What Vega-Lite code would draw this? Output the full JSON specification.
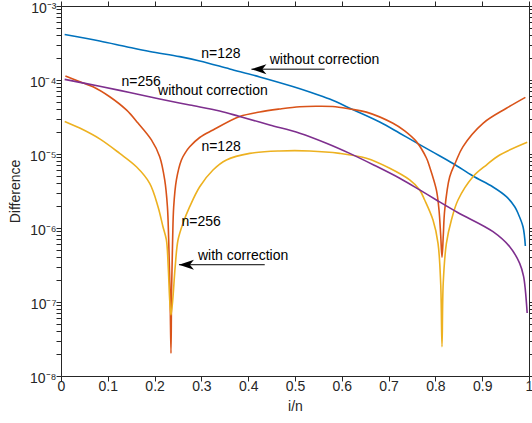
{
  "$schema": "https://vega.github.io/schema/vega-lite/v6.json",
  "width": 468,
  "height": 370,
  "autosize": {"type": "none"},
  "padding": {"left": 61, "top": 6, "right": 3, "bottom": 47},
  "config": {
    "view": {"stroke": null},
    "font": "Liberation Sans",
    "axis": {
      "grid": false,
      "labelFont": "Liberation Sans",
      "titleFont": "Liberation Sans",
      "labelFontSize": 14,
      "titleFontSize": 14,
      "titleFontWeight": "normal",
      "labelColor": "#262626",
      "titleColor": "#262626",
      "domainColor": "#262626",
      "domainWidth": 1,
      "tickColor": "#262626",
      "tickWidth": 1,
      "tickSize": 5,
      "ticks": true,
      "labelOverlap": false,
      "labelFlush": false,
      "labelBound": false
    }
  },
  "datasets": {
    "curves": [
      {"series": "n128 without", "x": 0.0078, "y": 4.12e-4},
      {"series": "n128 without", "x": 0.0827, "y": 3.37e-4},
      {"series": "n128 without", "x": 0.1397, "y": 2.82e-4},
      {"series": "n128 without", "x": 0.1895, "y": 2.43e-4},
      {"series": "n128 without", "x": 0.2536, "y": 2.07e-4},
      {"series": "n128 without", "x": 0.2964, "y": 1.81e-4},
      {"series": "n128 without", "x": 0.3605, "y": 1.41e-4},
      {"series": "n128 without", "x": 0.4246, "y": 1.10e-4},
      {"series": "n128 without", "x": 0.4951, "y": 8.17e-5},
      {"series": "n128 without", "x": 0.5314, "y": 6.89e-5},
      {"series": "n128 without", "x": 0.5741, "y": 5.53e-5},
      {"series": "n128 without", "x": 0.6233, "y": 3.99e-5},
      {"series": "n128 without", "x": 0.681, "y": 2.70e-5},
      {"series": "n128 without", "x": 0.7237, "y": 1.91e-5},
      {"series": "n128 without", "x": 0.7664, "y": 1.34e-5},
      {"series": "n128 without", "x": 0.7949, "y": 1.06e-5},
      {"series": "n128 without", "x": 0.8376, "y": 7.44e-6},
      {"series": "n128 without", "x": 0.8803, "y": 5.04e-6},
      {"series": "n128 without", "x": 0.9231, "y": 3.58e-6},
      {"series": "n128 without", "x": 0.9517, "y": 2.65e-6},
      {"series": "n128 without", "x": 0.9695, "y": 1.94e-6},
      {"series": "n128 without", "x": 0.9765, "y": 1.58e-6},
      {"series": "n128 without", "x": 0.9872, "y": 1.04e-6},
      {"series": "n128 without", "x": 0.9922, "y": 5.71e-7},

      {"series": "n128 with", "x": 0.0094, "y": 1.13e-4},
      {"series": "n128 with", "x": 0.047, "y": 9.10e-5},
      {"series": "n128 with", "x": 0.0684, "y": 8.11e-5},
      {"series": "n128 with", "x": 0.1041, "y": 5.94e-5},
      {"series": "n128 with", "x": 0.1397, "y": 3.94e-5},
      {"series": "n128 with", "x": 0.1645, "y": 2.62e-5},
      {"series": "n128 with", "x": 0.1932, "y": 1.55e-5},
      {"series": "n128 with", "x": 0.2109, "y": 9.20e-6},
      {"series": "n128 with", "x": 0.2216, "y": 4.46e-6},
      {"series": "n128 with", "x": 0.2274, "y": 1.94e-6},
      {"series": "n128 with", "x": 0.2301, "y": 6.89e-7},
      {"series": "n128 with", "x": 0.2329, "y": 1.45e-7},
      {"series": "n128 with", "x": 0.2350, "y": 2.03e-8},
      {"series": "n128 with", "x": 0.2363, "y": 1.45e-7},
      {"series": "n128 with", "x": 0.2385, "y": 6.89e-7},
      {"series": "n128 with", "x": 0.2408, "y": 1.94e-6},
      {"series": "n128 with", "x": 0.2466, "y": 4.46e-6},
      {"series": "n128 with", "x": 0.2573, "y": 8.30e-6},
      {"series": "n128 with", "x": 0.2665, "y": 1.06e-5},
      {"series": "n128 with", "x": 0.275, "y": 1.25e-5},
      {"series": "n128 with", "x": 0.2964, "y": 1.67e-5},
      {"series": "n128 with", "x": 0.3248, "y": 2.11e-5},
      {"series": "n128 with", "x": 0.3818, "y": 3.21e-5},
      {"series": "n128 with", "x": 0.4246, "y": 3.70e-5},
      {"series": "n128 with", "x": 0.4673, "y": 4.06e-5},
      {"series": "n128 with", "x": 0.5101, "y": 4.36e-5},
      {"series": "n128 with", "x": 0.5457, "y": 4.42e-5},
      {"series": "n128 with", "x": 0.5806, "y": 4.38e-5},
      {"series": "n128 with", "x": 0.6169, "y": 4.06e-5},
      {"series": "n128 with", "x": 0.6526, "y": 3.68e-5},
      {"series": "n128 with", "x": 0.7094, "y": 2.60e-5},
      {"series": "n128 with", "x": 0.7344, "y": 2.05e-5},
      {"series": "n128 with", "x": 0.7594, "y": 1.47e-5},
      {"series": "n128 with", "x": 0.7808, "y": 8.83e-6},
      {"series": "n128 with", "x": 0.7878, "y": 6.67e-6},
      {"series": "n128 with", "x": 0.8021, "y": 3.27e-6},
      {"series": "n128 with", "x": 0.8077, "y": 1.75e-6},
      {"series": "n128 with", "x": 0.8113, "y": 8.04e-7},
      {"series": "n128 with", "x": 0.8141, "y": 4.02e-7},
      {"series": "n128 with", "x": 0.8169, "y": 8.04e-7},
      {"series": "n128 with", "x": 0.8199, "y": 1.75e-6},
      {"series": "n128 with", "x": 0.8306, "y": 4.93e-6},
      {"series": "n128 with", "x": 0.8434, "y": 7.80e-6},
      {"series": "n128 with", "x": 0.859, "y": 1.26e-5},
      {"series": "n128 with", "x": 0.9017, "y": 2.60e-5},
      {"series": "n128 with", "x": 0.9517, "y": 4.15e-5},
      {"series": "n128 with", "x": 0.9923, "y": 5.83e-5},

      {"series": "n256 with", "x": 0.0079, "y": 2.75e-5},
      {"series": "n256 with", "x": 0.04, "y": 2.24e-5},
      {"series": "n256 with", "x": 0.0827, "y": 1.60e-5},
      {"series": "n256 with", "x": 0.1254, "y": 1.02e-5},
      {"series": "n256 with", "x": 0.1611, "y": 6.73e-6},
      {"series": "n256 with", "x": 0.1895, "y": 4.02e-6},
      {"series": "n256 with", "x": 0.2073, "y": 1.94e-6},
      {"series": "n256 with", "x": 0.2179, "y": 1.04e-6},
      {"series": "n256 with", "x": 0.2252, "y": 6.89e-7},
      {"series": "n256 with", "x": 0.2291, "y": 3.00e-7},
      {"series": "n256 with", "x": 0.2323, "y": 1.06e-7},
      {"series": "n256 with", "x": 0.2350, "y": 6.67e-8},
      {"series": "n256 with", "x": 0.2387, "y": 1.06e-7},
      {"series": "n256 with", "x": 0.244, "y": 3.00e-7},
      {"series": "n256 with", "x": 0.25, "y": 6.89e-7},
      {"series": "n256 with", "x": 0.2607, "y": 1.16e-6},
      {"series": "n256 with", "x": 0.275, "y": 1.94e-6},
      {"series": "n256 with", "x": 0.2964, "y": 3.61e-6},
      {"series": "n256 with", "x": 0.3248, "y": 6.08e-6},
      {"series": "n256 with", "x": 0.3534, "y": 8.30e-6},
      {"series": "n256 with", "x": 0.4032, "y": 1.02e-5},
      {"series": "n256 with", "x": 0.4673, "y": 1.10e-5},
      {"series": "n256 with", "x": 0.5314, "y": 1.10e-5},
      {"series": "n256 with", "x": 0.5955, "y": 1.02e-5},
      {"series": "n256 with", "x": 0.6526, "y": 8.75e-6},
      {"series": "n256 with", "x": 0.7024, "y": 6.41e-6},
      {"series": "n256 with", "x": 0.7451, "y": 4.46e-6},
      {"series": "n256 with", "x": 0.7664, "y": 3.27e-6},
      {"series": "n256 with", "x": 0.7771, "y": 2.39e-6},
      {"series": "n256 with", "x": 0.7949, "y": 1.28e-6},
      {"series": "n256 with", "x": 0.8056, "y": 6.21e-7},
      {"series": "n256 with", "x": 0.8113, "y": 1.79e-7},
      {"series": "n256 with", "x": 0.8141, "y": 2.49e-8},
      {"series": "n256 with", "x": 0.8167, "y": 1.79e-7},
      {"series": "n256 with", "x": 0.8235, "y": 6.21e-7},
      {"series": "n256 with", "x": 0.8342, "y": 1.28e-6},
      {"series": "n256 with", "x": 0.8483, "y": 2.39e-6},
      {"series": "n256 with", "x": 0.8803, "y": 4.93e-6},
      {"series": "n256 with", "x": 0.909, "y": 7.10e-6},
      {"series": "n256 with", "x": 0.9374, "y": 9.68e-6},
      {"series": "n256 with", "x": 0.9962, "y": 1.44e-5},

      {"series": "n256 without", "x": 0.0078, "y": 1.02e-4},
      {"series": "n256 without", "x": 0.0827, "y": 8.22e-5},
      {"series": "n256 without", "x": 0.1468, "y": 6.78e-5},
      {"series": "n256 without", "x": 0.2109, "y": 5.53e-5},
      {"series": "n256 without", "x": 0.275, "y": 4.59e-5},
      {"series": "n256 without", "x": 0.3391, "y": 3.81e-5},
      {"series": "n256 without", "x": 0.3818, "y": 3.21e-5},
      {"series": "n256 without", "x": 0.4459, "y": 2.47e-5},
      {"series": "n256 without", "x": 0.5101, "y": 1.91e-5},
      {"series": "n256 without", "x": 0.5671, "y": 1.40e-5},
      {"series": "n256 without", "x": 0.6169, "y": 1.02e-5},
      {"series": "n256 without", "x": 0.6703, "y": 7.00e-6},
      {"series": "n256 without", "x": 0.7237, "y": 4.70e-6},
      {"series": "n256 without", "x": 0.7664, "y": 3.27e-6},
      {"series": "n256 without", "x": 0.8021, "y": 2.39e-6},
      {"series": "n256 without", "x": 0.8476, "y": 1.62e-6},
      {"series": "n256 without", "x": 0.9231, "y": 8.91e-7},
      {"series": "n256 without", "x": 0.9588, "y": 5.58e-7},
      {"series": "n256 without", "x": 0.9801, "y": 3.33e-7},
      {"series": "n256 without", "x": 0.9883, "y": 2.24e-7},
      {"series": "n256 without", "x": 0.9922, "y": 1.45e-7},
      {"series": "n256 without", "x": 0.9961, "y": 7.10e-8}
    ],
    "arrows": [
      {"x": 0.4069, "x2": 0.5634, "y": 1.40e-4},
      {"x": 0.2521, "x2": 0.4353, "y": 3.19e-7}
    ],
    "labels": [
      {"t": "n=128", "x": 0.2996, "y": 2.24e-4},
      {"t": "without correction", "x": 0.4459, "y": 1.86e-4},
      {"t": "n=256", "x": 0.1291, "y": 9.48e-5},
      {"t": "without correction", "x": 0.2073, "y": 7.16e-5},
      {"t": "n=128", "x": 0.3, "y": 1.26e-5},
      {"t": "n=256", "x": 0.2573, "y": 1.20e-6},
      {"t": "with correction", "x": 0.2927, "y": 4.19e-7}
    ]
  },
  "layer": [
    {
      "encoding": {
        "x": {
          "field": "x", "type": "quantitative",
          "scale": {"domain": [0, 1], "nice": false, "zero": false},
          "axis": {
            "orient": "bottom",
            "values": [0, 0.1, 0.2, 0.3, 0.4, 0.5, 0.6, 0.7, 0.8, 0.9, 1],
            "format": "~g",
            "title": "i/n",
            "labelPadding": -2,
            "titlePadding": 6,
            "encode": {"ticks": {"update": {"y2": {"value": -5}}}}
          }
        },
        "y": {
          "field": "y", "type": "quantitative",
          "scale": {"type": "log", "domain": [1e-8, 1e-3], "nice": false},
          "axis": {
            "orient": "left",
            "values": [1e-8, 2e-8, 3e-8, 4e-8, 5e-8, 6e-8, 7e-8, 8e-8, 9e-8,
                       1e-7, 2e-7, 3e-7, 4e-7, 5e-7, 6e-7, 7e-7, 8e-7, 9e-7,
                       1e-6, 2e-6, 3e-6, 4e-6, 5e-6, 6e-6, 7e-6, 8e-6, 9e-6,
                       1e-5, 2e-5, 3e-5, 4e-5, 5e-5, 6e-5, 7e-5, 8e-5, 9e-5,
                       1e-4, 2e-4, 3e-4, 4e-4, 5e-4, 6e-4, 7e-4, 8e-4, 9e-4, 1e-3],
            "labelExpr": "datum.value == 0.001 ? '10⁻³' : datum.value == 0.0001 ? '10⁻⁴' : datum.value == 0.00001 ? '10⁻⁵' : datum.value == 0.000001 ? '10⁻⁶' : datum.value == 1e-7 ? '10⁻⁷' : datum.value == 1e-8 ? '10⁻⁸' : ''",
            "title": "Difference",
            "labelPadding": 0,
            "labelOffset": 2,
            "titlePadding": 7,
            "encode": {"ticks": {"update": {"x2": [{"test": "indexof([0.001, 0.0001, 0.00001, 0.000001, 1e-7, 1e-8], datum.value) >= 0", "value": 5}, {"value": 3}]}}}
          }
        }
      },
      "layer": [
        {
          "data": {"name": "curves"},
          "transform": [{"filter": "datum.series == 'n128 without'"}],
          "mark": {"type": "line", "color": "#0072BD", "strokeWidth": 1.6, "interpolate": "catmull-rom", "clip": true}
        },
        {
          "data": {"name": "curves"},
          "transform": [{"filter": "datum.series == 'n128 with'"}],
          "mark": {"type": "line", "color": "#D95319", "strokeWidth": 1.6, "interpolate": "catmull-rom", "clip": true}
        },
        {
          "data": {"name": "curves"},
          "transform": [{"filter": "datum.series == 'n256 with'"}],
          "mark": {"type": "line", "color": "#EDB120", "strokeWidth": 1.6, "interpolate": "catmull-rom", "clip": true}
        },
        {
          "data": {"name": "curves"},
          "transform": [{"filter": "datum.series == 'n256 without'"}],
          "mark": {"type": "line", "color": "#7E2F8E", "strokeWidth": 1.6, "interpolate": "catmull-rom", "clip": true}
        },
        {
          "data": {"name": "arrows"},
          "mark": {"type": "rule", "color": "#000000", "strokeWidth": 1},
          "encoding": {"x2": {"field": "x2"}}
        },
        {
          "data": {"name": "arrows"},
          "mark": {"type": "point", "shape": "M0,0L2,-0.67L1.45,0L2,0.67Z", "filled": true, "color": "#000000", "size": 225, "opacity": 1, "strokeWidth": 0}
        },
        {
          "data": {"name": "labels"},
          "mark": {"type": "text", "align": "left", "baseline": "middle", "fontSize": 14, "font": "Liberation Sans", "color": "#000000"},
          "encoding": {"text": {"field": "t"}}
        }
      ]
    },
    {
      "data": {"name": "curves"},
      "mark": {"type": "point", "opacity": 0},
      "encoding": {
        "x": {
          "field": "x", "type": "quantitative",
          "scale": {"domain": [0, 1], "nice": false, "zero": false},
          "axis": {
            "orient": "top",
            "values": [0, 0.1, 0.2, 0.3, 0.4, 0.5, 0.6, 0.7, 0.8, 0.9, 1],
            "labels": false,
            "title": null,
            "encode": {"ticks": {"update": {"y2": {"value": 5}}}}
          }
        },
        "y": {
          "field": "y", "type": "quantitative",
          "scale": {"type": "log", "domain": [1e-8, 1e-3], "nice": false},
          "axis": {
            "orient": "right",
            "values": [1e-8, 2e-8, 3e-8, 4e-8, 5e-8, 6e-8, 7e-8, 8e-8, 9e-8,
                       1e-7, 2e-7, 3e-7, 4e-7, 5e-7, 6e-7, 7e-7, 8e-7, 9e-7,
                       1e-6, 2e-6, 3e-6, 4e-6, 5e-6, 6e-6, 7e-6, 8e-6, 9e-6,
                       1e-5, 2e-5, 3e-5, 4e-5, 5e-5, 6e-5, 7e-5, 8e-5, 9e-5,
                       1e-4, 2e-4, 3e-4, 4e-4, 5e-4, 6e-4, 7e-4, 8e-4, 9e-4, 1e-3],
            "labels": false,
            "title": null,
            "encode": {"ticks": {"update": {"x2": [{"test": "indexof([0.001, 0.0001, 0.00001, 0.000001, 1e-7, 1e-8], datum.value) >= 0", "value": -5}, {"value": -3}]}}}
          }
        }
      }
    }
  ],
  "resolve": {"scale": {"x": "independent", "y": "independent"}}
}
